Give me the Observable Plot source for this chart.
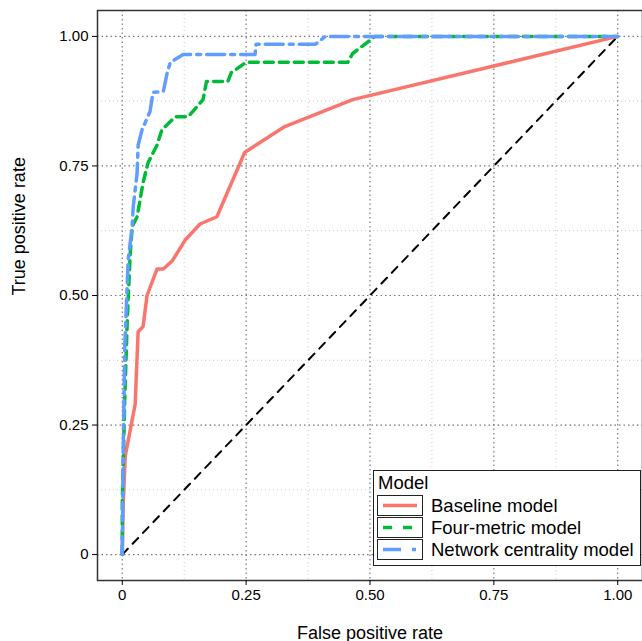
<!DOCTYPE html>
<html><head><meta charset="utf-8">
<script src="https://cdn.jsdelivr.net/npm/d3@7"></script>
<script src="https://cdn.jsdelivr.net/npm/@observablehq/plot@0.6"></script>
<style>body{margin:0;font-family:Arial,"Liberation Sans",sans-serif;background:#fff}#c{position:relative;width:642px;height:641px}
.lg{position:absolute;left:373px;top:470px;width:266px;height:94px;border:1.5px solid #222;background:#fff;font-size:18.5px}
.kb{position:absolute;width:46px;height:21px;border:1.5px solid #222;box-sizing:border-box}
.tx{position:absolute;left:57px;line-height:22px;white-space:nowrap}
</style></head><body><div id="c"></div>
<script>
const baselineX=[0,0.002,0.006,0.012,0.026,0.032,0.042,0.05,0.07,0.083,0.101,0.127,0.157,0.191,0.247,0.328,0.465,1];
const baselineY=[0,0.1,0.19,0.22,0.29,0.43,0.44,0.5,0.551,0.551,0.567,0.607,0.638,0.652,0.776,0.826,0.878,1];
const fourX=[0,0,0.005,0.01,0.016,0.02,0.03,0.042,0.052,0.07,0.08,0.107,0.133,0.163,0.17,0.213,0.22,0.25,0.455,0.465,0.51,1];
const fourY=[0,0.1,0.3,0.45,0.58,0.633,0.652,0.718,0.756,0.79,0.82,0.845,0.845,0.878,0.913,0.913,0.93,0.95,0.95,0.967,1,1];
const netX=[0,0.002,0.005,0.012,0.02,0.022,0.03,0.032,0.04,0.056,0.062,0.083,0.09,0.097,0.123,0.268,0.27,0.39,0.41,1];
const netY=[0,0.2,0.4,0.57,0.633,0.67,0.737,0.79,0.82,0.855,0.892,0.894,0.927,0.95,0.965,0.965,0.985,0.985,1,1];
const ticks=[0,0.25,0.5,0.75,1];
const tickLabelsX=["0","0.25","0.50","0.75","1.00"];
const tickLabelsY=["0","0.25","0.50","0.75","1.00"];
const minor=[0.125,0.375,0.625,0.875];
const mk=(xs,ys)=>xs.map((x,i)=>({x,y:ys[i]}));
const plot=Plot.plot({width:642,height:641,marginLeft:97,marginRight:0,marginTop:10,marginBottom:61,
 x:{domain:[-0.05,1.05],label:null},
 y:{domain:[-0.05,1.05],label:null},
 style:{fontSize:"14px",fontFamily:"Arial, Liberation Sans, sans-serif",color:"#000"},
 marks:[
  Plot.ruleX(minor,{stroke:"#bbb",strokeDasharray:"1,3",strokeWidth:0.8}),
  Plot.ruleY(minor,{stroke:"#bbb",strokeDasharray:"1,3",strokeWidth:0.8}),
  Plot.ruleX(ticks,{stroke:"#777",strokeDasharray:"1.5,3",strokeWidth:1.2}),
  Plot.ruleY(ticks,{stroke:"#777",strokeDasharray:"1.5,3",strokeWidth:1.2}),
  Plot.line([{x:0,y:0},{x:1,y:1}],{x:"x",y:"y",stroke:"#000",strokeWidth:2,strokeDasharray:"8,7"}),
  Plot.line(mk(baselineX,baselineY),{x:"x",y:"y",stroke:"#F8766D",strokeWidth:3.5}),
  Plot.line(mk(fourX,fourY),{x:"x",y:"y",stroke:"#00BA38",strokeWidth:3.5,strokeDasharray:"9,6"}),
  Plot.line(mk(netX,netY),{x:"x",y:"y",stroke:"#619CFF",strokeWidth:3.5,strokeDasharray:"18,6,4,6"}),
  Plot.frame({stroke:"#333",strokeWidth:1.5}),
  Plot.axisX({ticks,tickFormat:(d,i)=>tickLabelsX[i],tickSize:5,tickPadding:4,fontSize:15}),
  Plot.axisY({ticks,tickFormat:(d,i)=>tickLabelsY[i],tickSize:5,tickPadding:4,fontSize:15}),
  Plot.text(["False positive rate"],{frameAnchor:"bottom",dy:58,fontSize:18}),
  Plot.text(["True positive rate"],{frameAnchor:"left",dx:-78,rotate:-90,fontSize:18})
 ]});
const c=document.getElementById("c");c.appendChild(plot);
const lg=document.createElement("div");lg.className="lg";
const items=[["Baseline model","#F8766D",""],["Four-metric model","#00BA38","9,11"],["Network centrality model","#619CFF","18,11,4,4"]];
let h='<div style="position:absolute;left:4px;top:0;line-height:24px">Model</div>';
items.forEach(([t,col,d],i)=>{const top=24+i*22;
 h+=`<div class="kb" style="left:3px;top:${top}px"></div><svg width="46" height="21" style="position:absolute;left:3px;top:${top}px"><line x1="6" x2="40" y1="10.5" y2="10.5" stroke="${col}" stroke-width="3.5" stroke-dasharray="${d}"/></svg><div class="tx" style="top:${top}px">${t}</div>`;});
lg.innerHTML=h;
c.appendChild(lg);
</script></body></html>
